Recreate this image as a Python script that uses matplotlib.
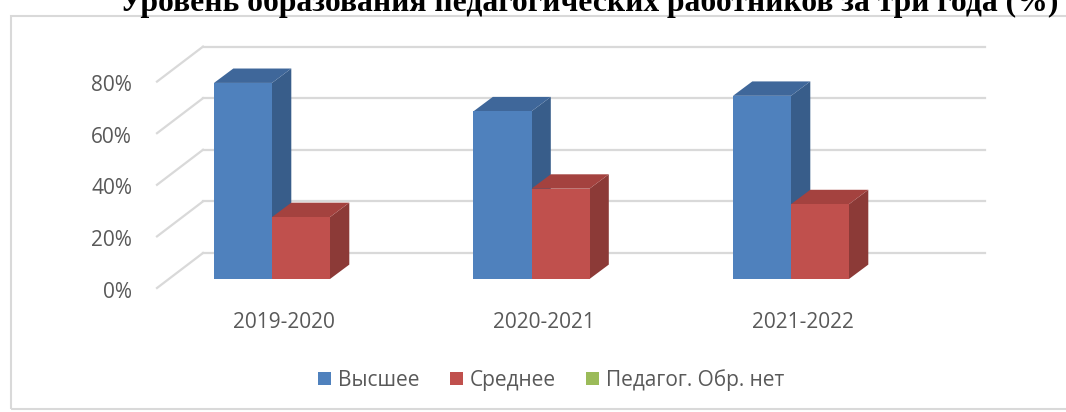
import numpy as np
import matplotlib
matplotlib.use("Agg")
import matplotlib.pyplot as plt
from matplotlib.patches import Polygon, Rectangle, Patch

# data
categories = ["2019-2020", "2020-2021", "2021-2022"]
series_names = ["Высшее", "Среднее", "Педагог. Обр. нет"]
vysshee = [76, 65, 71]
srednee = [24, 35, 29]
net_obr = [0, 0, 0]
yticks = [0, 20, 40, 60, 80]
title = "Уровень образования педагогических работников за три года (%)"

front_colors = ["#4F81BD", "#C0504D", "#9BBB59"]
side_colors = ["#385D8A", "#8C3A37", "#71893F"]
top_colors = ["#3F679A", "#A4423F", "#88A24E"]

W, H = 1066, 412
# pixel mapping of the front plane
PX0, PX_PER_CAT = 272.0, 259.5
PY0, PX_PER_PCT = 279.0, 2.58

# 3d offsets (data units)
DXB, DYB = 19.3 / PX_PER_CAT, 14.4 / PX_PER_PCT      # bar depth
BWX, BWY = 34 / PX_PER_CAT, 26 / PX_PER_PCT          # back wall
FFX, FFY = -12 / PX_PER_CAT, -9 / PX_PER_PCT         # floor front edge
WALL_L, WALL_R = (203 - PX0) / PX_PER_CAT, (985 - PX0) / PX_PER_CAT
BAR_W = 58 / PX_PER_CAT

fig = plt.figure(figsize=(W / 100, H / 100), dpi=100)
left, right, top, bottom = 60, 1050, 20, 345
ax = fig.add_axes([left / W, (H - bottom) / H, (right - left) / W, (bottom - top) / H])
ax.set_xlim((left - PX0) / PX_PER_CAT, (right - PX0) / PX_PER_CAT)
ax.set_ylim((PY0 - bottom) / PX_PER_PCT, (PY0 - top) / PX_PER_PCT)
ax.axis("off")

grid_c = "#D9D9D9"
for v in yticks:
    # back wall line
    ax.plot([WALL_L, WALL_R], [v + BWY, v + BWY], color=grid_c, lw=1.6, zorder=1)
    # side wall line
    fx = WALL_L - (BWX - FFX)
    ax.plot([fx, WALL_L], [v + FFY, v + BWY], color=grid_c, lw=1.6, zorder=1)
    ax.text((132 - PX0) / PX_PER_CAT, v + FFY - 4 / PX_PER_PCT, f"{v}%",
            ha="right", va="center", fontsize=15, color="#595959", family="Open Sans")

x = np.arange(len(categories))
offsets = [-BAR_W, 0.0, BAR_W]
for i in x:
    for j, vals in enumerate([vysshee, srednee, net_obr]):
        v = vals[i]
        if v <= 0:
            continue
        x0 = i + offsets[j]
        x1 = x0 + BAR_W
        z = 2 + i * 3 + j
        ax.add_patch(Polygon([(x1, 0), (x1 + DXB, DYB), (x1 + DXB, v + DYB), (x1, v)],
                             closed=True, fc=side_colors[j], ec="none", zorder=z))
        ax.add_patch(Polygon([(x0, v), (x1, v), (x1 + DXB, v + DYB), (x0 + DXB, v + DYB)],
                             closed=True, fc=top_colors[j], ec="none", zorder=z))
        ax.bar(x0, v, width=BAR_W, align="edge", color=front_colors[j], zorder=z)

for i, c in enumerate(categories):
    ax.text(i + 12 / PX_PER_CAT, -43 / PX_PER_PCT, c, ha="center", va="center",
            fontsize=15, color="#595959", family="Open Sans")

handles = [Patch(facecolor=front_colors[k], label=series_names[k]) for k in range(3)]
fig.legend(handles=handles, loc="center", bbox_to_anchor=(551 / W, 1 - 380 / H), ncol=3,
           frameon=False, prop={"family": "Open Sans", "size": 15}, labelcolor="#595959",
           handlelength=0.62, handleheight=0.62, handletextpad=0.33, columnspacing=1.45)

# chart border
fig.patches.append(Rectangle((11 / W, 3 / H), 1.2, 1 - 19 / H, transform=fig.transFigure,
                             fill=False, ec="#D9D9D9", lw=1.5))

fig.text(120 / W, 1 - 11 / H, title, ha="left", va="baseline", fontsize=22.8,
         fontweight="bold", family="Liberation Serif", color="black")

fig.savefig("out.png", dpi=100)
